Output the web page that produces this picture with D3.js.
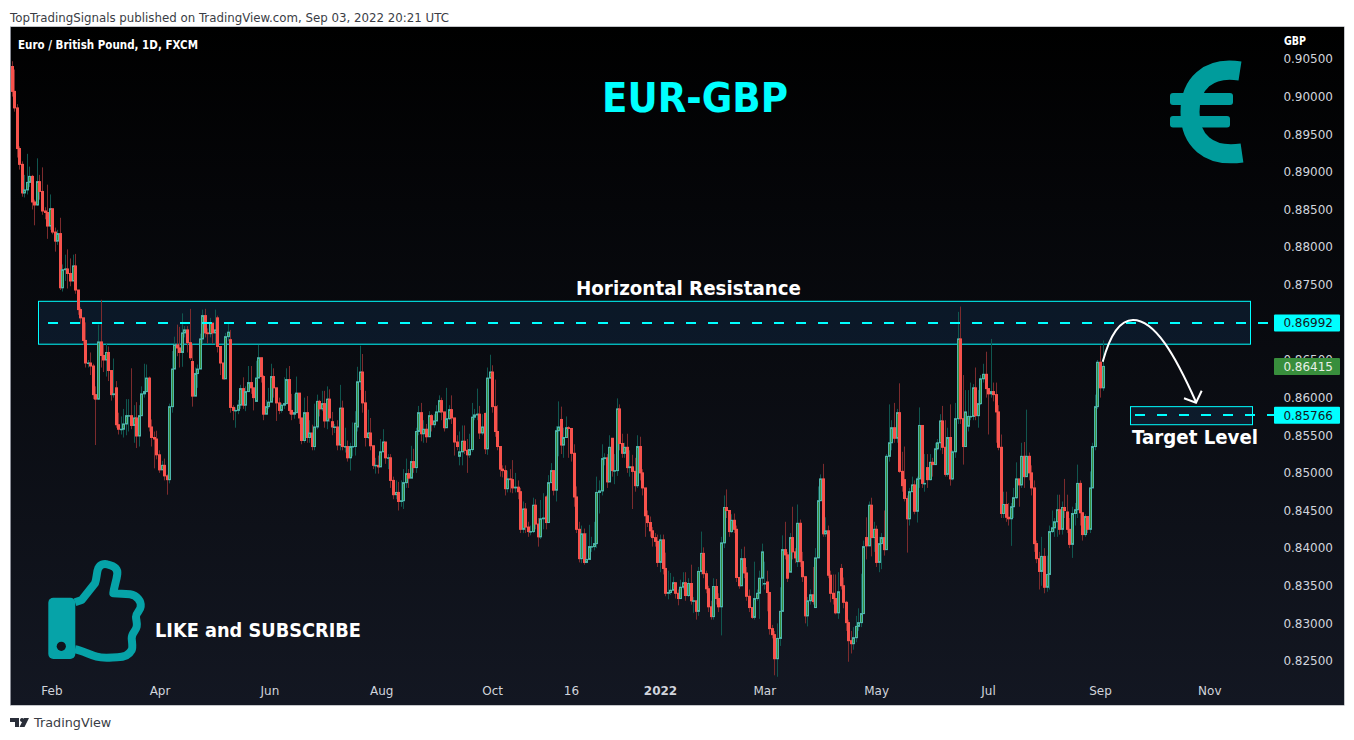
<!DOCTYPE html>
<html><head><meta charset="utf-8">
<script src="https://cdn.jsdelivr.net/npm/d3@7/dist/d3.min.js"></script>
<style>html,body{margin:0;padding:0;background:#fff;overflow:hidden}svg{display:block}text{font-family:"DejaVu Sans",sans-serif}</style>
</head><body><svg id="c" width="1354" height="740"></svg>
<script>
// prices in units of 0.0001 GBP
const opens=[
9040,9007,8985,8931,8910,8872,8876,8886,8894,8860,
8856,8887,8874,8848,8846,8828,8851,8820,8808,8818,
8746,8770,8771,8765,8755,8775,8743,8717,8706,8676,
8646,8646,8642,8604,8598,8674,8656,8650,8660,8636,
8604,8613,8564,8558,8558,8565,8576,8576,8563,8573,
8549,8576,8605,8608,8626,8561,8547,8545,8524,8504,
8510,8496,8491,8588,8638,8670,8666,8660,8686,8690,
8673,8648,8602,8632,8638,8678,8709,8686,8685,8699,
8686,8706,8668,8646,8625,8681,8677,8587,8583,8583,
8590,8612,8590,8608,8620,8613,8595,8626,8653,8628,
8578,8588,8594,8628,8613,8593,8583,8590,8592,8624,
8583,8578,8580,8606,8573,8543,8580,8547,8553,8535,
8561,8595,8585,8592,8569,8598,8568,8561,8561,8537,
8586,8535,8535,8520,8535,8535,8561,8621,8634,8593,
8547,8553,8536,8510,8510,8508,8528,8541,8520,8520,
8490,8471,8474,8462,8463,8487,8499,8493,8515,8507,
8555,8580,8552,8558,8548,8576,8564,8569,8581,8596,
8581,8560,8572,8584,8573,8541,8522,8528,8542,8530,
8524,8531,8574,8577,8578,8553,8579,8532,8626,8634,
8588,8555,8535,8505,8503,8479,8492,8491,8480,8481,
8475,8425,8452,8428,8422,8422,8457,8432,8415,8439,
8468,8434,8487,8503,8477,8556,8571,8537,8547,8560,
8559,8526,8468,8425,8386,8419,8381,8385,8402,8402,
8406,8474,8476,8519,8520,8488,8546,8503,8503,8585,
8539,8526,8534,8507,8508,8502,8483,8535,8500,8480,
8443,8434,8423,8414,8409,8381,8411,8373,8340,8341,
8344,8354,8340,8333,8348,8354,8337,8353,8330,8330,
8316,8369,8393,8366,8346,8322,8309,8349,8333,8322,
8407,8454,8450,8422,8437,8425,8361,8350,8386,8367,
8336,8321,8308,8333,8340,8360,8353,8355,8341,8293,
8285,8253,8280,8316,8398,8391,8368,8414,8395,8382,
8433,8382,8362,8310,8330,8338,8321,8387,8463,8492,
8419,8423,8364,8340,8333,8314,8373,8350,8328,8301,
8277,8273,8281,8296,8301,8313,8414,8403,8457,8414,
8425,8381,8406,8414,8398,8522,8540,8560,8546,8580,
8502,8491,8466,8439,8475,8484,8449,8492,8563,8486,
8507,8491,8514,8511,8532,8540,8569,8534,8498,8547,
8492,8528,8572,8678,8572,8535,8562,8575,8575,8613,
8576,8592,8625,8631,8612,8605,8608,8604,8581,8534,
8446,8458,8441,8439,8455,8467,8492,8484,8522,8495,
8522,8500,8480,8406,8386,8369,8389,8348,8365,8422,
8427,8435,8451,8425,8454,8448,8425,8405,8446,8451,
8486,8447,8418,8442,8425,8480,8535,8588,8647,8613];
const closes=[
9007,8985,8931,8910,8872,8876,8886,8894,8860,8856,
8887,8874,8848,8846,8828,8851,8820,8808,8818,8746,
8770,8771,8765,8755,8775,8743,8717,8706,8676,8646,
8646,8642,8604,8598,8674,8656,8650,8660,8636,8604,
8605,8564,8558,8558,8565,8576,8576,8563,8573,8549,
8576,8605,8608,8626,8561,8547,8545,8524,8504,8510,
8496,8491,8588,8638,8670,8666,8660,8686,8690,8673,
8653,8602,8632,8638,8678,8709,8686,8685,8699,8686,
8690,8668,8646,8625,8681,8687,8587,8583,8583,8590,
8612,8590,8608,8620,8613,8600,8626,8653,8628,8578,
8588,8594,8628,8613,8593,8583,8590,8592,8624,8583,
8578,8580,8606,8573,8543,8580,8547,8553,8535,8561,
8595,8585,8592,8569,8598,8573,8561,8561,8537,8586,
8535,8535,8520,8535,8535,8566,8621,8634,8593,8547,
8553,8536,8510,8510,8508,8528,8541,8520,8520,8490,
8471,8474,8462,8463,8487,8499,8493,8515,8507,8555,
8580,8552,8558,8548,8576,8564,8569,8581,8596,8581,
8560,8572,8584,8573,8541,8535,8528,8542,8530,8524,
8531,8574,8577,8578,8553,8561,8532,8626,8634,8588,
8555,8535,8505,8503,8479,8492,8491,8480,8481,8475,
8425,8452,8428,8422,8422,8457,8432,8415,8439,8440,
8434,8487,8503,8477,8556,8561,8537,8547,8560,8559,
8526,8468,8425,8386,8419,8381,8385,8402,8402,8406,
8474,8476,8519,8520,8488,8534,8503,8503,8585,8539,
8526,8534,8507,8508,8502,8483,8535,8500,8480,8443,
8434,8423,8414,8409,8381,8411,8373,8340,8341,8344,
8354,8340,8333,8348,8354,8337,8353,8330,8330,8316,
8369,8393,8366,8346,8322,8309,8349,8333,8322,8407,
8454,8450,8422,8437,8425,8361,8350,8386,8367,8336,
8321,8308,8333,8340,8360,8395,8353,8341,8293,8285,
8253,8280,8316,8398,8391,8360,8414,8395,8387,8433,
8382,8362,8310,8330,8338,8329,8387,8463,8492,8419,
8423,8364,8340,8333,8314,8342,8350,8328,8301,8277,
8273,8281,8296,8301,8313,8402,8403,8457,8414,8425,
8381,8406,8414,8398,8522,8540,8560,8546,8580,8502,
8483,8466,8439,8475,8484,8449,8492,8563,8486,8486,
8491,8514,8511,8532,8540,8569,8534,8498,8547,8492,
8528,8572,8678,8572,8535,8581,8575,8575,8613,8576,
8592,8625,8631,8612,8605,8608,8604,8581,8534,8446,
8458,8441,8439,8455,8467,8492,8484,8522,8495,8522,
8500,8480,8406,8386,8369,8389,8348,8365,8422,8427,
8435,8451,8425,8454,8450,8425,8405,8446,8451,8486,
8447,8418,8442,8425,8480,8535,8588,8647,8613,8641.5];
const highs=[
9047,9036,8990,8934,8914,8896,8924,8907,8896,8863,
8918,8896,8906,8853,8883,8870,8847,8826,8823,8839,
8777,8790,8797,8785,8790,8791,8740,8720,8700,8700,
8650,8660,8645,8615,8697,8730,8670,8672,8668,8620,
8652,8622,8580,8575,8585,8598,8598,8639,8590,8594,
8590,8615,8645,8644,8628,8571,8555,8556,8530,8516,
8519,8498,8592,8662,8681,8697,8694,8712,8695,8695,
8718,8670,8640,8644,8685,8717,8718,8692,8706,8690,
8717,8709,8665,8635,8686,8700,8690,8590,8587,8597,
8617,8627,8615,8642,8642,8608,8649,8670,8642,8630,
8597,8613,8645,8639,8605,8600,8593,8627,8639,8642,
8605,8605,8628,8600,8560,8600,8602,8570,8564,8592,
8604,8597,8609,8609,8615,8611,8581,8565,8570,8617,
8596,8560,8543,8540,8567,8582,8641,8669,8658,8609,
8584,8573,8530,8520,8523,8545,8558,8536,8525,8525,
8495,8490,8488,8490,8505,8519,8505,8536,8532,8560,
8589,8593,8570,8565,8582,8578,8578,8590,8603,8600,
8580,8613,8590,8603,8570,8550,8555,8563,8563,8545,
8552,8593,8585,8612,8589,8578,8580,8640,8657,8643,
8624,8590,8525,8510,8510,8503,8505,8517,8500,8490,
8480,8462,8460,8435,8430,8467,8465,8440,8464,8473,
8470,8497,8513,8500,8562,8595,8588,8560,8575,8562,
8540,8538,8482,8435,8430,8426,8420,8431,8415,8435,
8495,8490,8538,8526,8525,8550,8525,8525,8599,8591,
8552,8540,8552,8530,8524,8520,8550,8548,8505,8480,
8450,8442,8428,8420,8418,8418,8418,8394,8370,8367,
8362,8354,8345,8358,8368,8368,8360,8378,8335,8330,
8375,8422,8401,8370,8350,8330,8360,8359,8340,8415,
8470,8478,8450,8445,8446,8430,8355,8399,8402,8375,
8345,8320,8382,8345,8370,8406,8382,8370,8342,8298,
8290,8300,8348,8417,8435,8395,8420,8455,8400,8458,
8438,8395,8363,8335,8345,8375,8400,8482,8498,8512,
8441,8430,8370,8365,8365,8368,8379,8361,8330,8305,
8290,8295,8310,8320,8366,8410,8441,8462,8467,8435,
8430,8415,8420,8450,8525,8591,8570,8593,8585,8619,
8528,8535,8470,8480,8495,8490,8495,8587,8530,8525,
8525,8525,8520,8540,8545,8578,8589,8570,8560,8591,
8530,8593,8714,8721,8630,8610,8610,8620,8618,8640,
8610,8630,8645,8661,8610,8678,8620,8620,8590,8551,
8475,8475,8460,8460,8480,8514,8490,8540,8541,8584,
8527,8510,8490,8410,8395,8415,8400,8390,8430,8450,
8440,8471,8471,8462,8492,8471,8440,8455,8460,8511,
8490,8440,8445,8435,8502,8540,8604,8650,8669,8676];
const lows=[
9000,8980,8919,8903,8867,8866,8870,8880,8850,8829,
8855,8863,8843,8837,8811,8823,8817,8794,8803,8743,
8741,8755,8745,8748,8760,8738,8710,8698,8670,8640,
8640,8630,8598,8537,8597,8640,8634,8628,8622,8596,
8600,8560,8551,8551,8547,8550,8555,8558,8540,8533,
8535,8595,8600,8618,8555,8535,8506,8518,8500,8505,
8490,8471,8486,8580,8640,8655,8640,8641,8680,8660,
8650,8588,8625,8613,8670,8672,8680,8672,8680,8672,
8670,8660,8630,8624,8660,8675,8580,8570,8560,8578,
8585,8585,8582,8610,8605,8583,8620,8650,8620,8570,
8578,8585,8605,8600,8569,8578,8580,8585,8595,8578,
8570,8572,8600,8565,8538,8540,8540,8540,8530,8530,
8558,8575,8582,8560,8558,8568,8550,8553,8530,8530,
8530,8527,8515,8503,8522,8523,8555,8610,8580,8535,
8545,8530,8505,8499,8499,8515,8530,8512,8505,8480,
8465,8465,8450,8455,8452,8480,8480,8508,8500,8500,
8550,8542,8540,8540,8560,8555,8560,8570,8590,8570,
8555,8565,8570,8565,8523,8530,8510,8510,8525,8500,
8520,8528,8570,8570,8545,8550,8525,8524,8625,8580,
8548,8530,8495,8494,8470,8474,8474,8473,8474,8465,
8420,8420,8420,8415,8417,8420,8425,8402,8412,8425,
8425,8480,8490,8470,8462,8522,8525,8520,8550,8520,
8515,8455,8420,8381,8380,8378,8380,8385,8395,8397,
8400,8446,8470,8510,8480,8488,8495,8485,8496,8530,
8520,8520,8500,8495,8452,8475,8480,8490,8470,8415,
8428,8415,8402,8402,8375,8368,8365,8336,8332,8338,
8345,8333,8324,8335,8345,8330,8335,8325,8314,8305,
8310,8365,8360,8340,8315,8305,8305,8325,8315,8284,
8400,8440,8415,8420,8420,8355,8346,8350,8360,8330,
8315,8306,8305,8330,8306,8350,8345,8316,8285,8280,
8231,8229,8270,8316,8385,8355,8395,8385,8380,8375,
8375,8355,8300,8296,8325,8325,8325,8450,8485,8415,
8415,8360,8328,8325,8312,8306,8345,8320,8290,8249,
8260,8265,8275,8290,8295,8395,8385,8410,8389,8395,
8375,8368,8372,8390,8398,8515,8530,8540,8540,8500,
8475,8462,8394,8430,8475,8445,8434,8480,8480,8475,
8480,8490,8495,8525,8530,8530,8525,8495,8495,8483,
8490,8520,8565,8565,8511,8535,8555,8570,8570,8570,
8560,8590,8620,8600,8551,8600,8595,8540,8530,8440,
8440,8435,8430,8403,8440,8465,8455,8480,8480,8495,
8490,8470,8395,8380,8345,8350,8340,8342,8345,8420,
8415,8415,8418,8418,8440,8420,8400,8387,8430,8440,
8430,8410,8415,8420,8420,8480,8530,8585,8600,8609];
const priceTicks=[0.825,0.83,0.835,0.84,0.845,0.85,0.855,0.86,0.865,0.87,0.875,0.88,0.885,0.89,0.895,0.9,0.905];
const timeLabels=["Feb","Apr","Jun","Aug","Oct","16","2022","Mar","May","Jul","Sep","Nov"];
const timeLabelBars=[15.7,58.2,101.4,145.4,189,220,255,296,340,384,428,471];
const resistanceZone=[0.8671,0.8728], targetZone=[0.8564,0.8588];
const resistancePrice=0.86992, targetPrice=0.85766, lastPrice=0.86415;

const W=1354,H=740,pane={l:11,r:1344,t:27,b:705};
const svg=d3.select("#c");
const defs=svg.append("defs");
const g=defs.append("linearGradient").attr("id","bg").attr("x1",0).attr("y1",0).attr("x2",0).attr("y2",1);
g.append("stop").attr("offset","0%").attr("stop-color","#000000");
g.append("stop").attr("offset","100%").attr("stop-color","#131722");
defs.append("clipPath").attr("id","pc").append("rect").attr("x",pane.l).attr("y",pane.t).attr("width",pane.r-pane.l).attr("height",pane.b-pane.t);

const x=d3.scaleLinear().domain([0,closes.length-1]).range([11.5,1102.5]);
const y=d3.scaleLinear().domain([0.825,0.905]).range([661,59]);
const p=v=>y(v/10000);

// header and frame
svg.append("text").attr("x",10).attr("y",21.5).attr("font-size",11.8).attr("fill","#3a3d45").text("TopTradingSignals published on TradingView.com, Sep 03, 2022 20:21 UTC");
svg.append("rect").attr("x",pane.l-1).attr("y",pane.t-0.5).attr("width",pane.r-pane.l+1.5).attr("height",pane.b-pane.t+1).attr("fill","#8a8d96");
svg.append("rect").attr("x",pane.l).attr("y",pane.t).attr("width",pane.r-pane.l).attr("height",pane.b-pane.t).attr("fill","url(#bg)");

// zones (under the candles)
const zone=(d,x0,x1)=>svg.append("rect").attr("x",x0).attr("width",x1-x0)
  .attr("y",y(d[1])).attr("height",y(d[0])-y(d[1]))
  .attr("fill","rgba(33,150,243,0.11)").attr("stroke","#00ffff").attr("stroke-width",1);
zone(resistanceZone,38.5,1250.5);
zone(targetZone,1130.5,1252.5);

// candles
const bars=d3.range(closes.length);
const plot=svg.append("g").attr("clip-path","url(#pc)");
plot.append("g").selectAll("line").data(bars).join("line")
  .attr("x1",i=>Math.round(x(i))+0.5).attr("x2",i=>Math.round(x(i))+0.5)
  .attr("y1",i=>p(highs[i])).attr("y2",i=>p(lows[i]))
  .attr("stroke",i=>closes[i]>=opens[i]?"#10564f":"#7c2b2d").attr("stroke-width",1);
plot.append("g").selectAll("rect").data(bars).join("rect")
  .attr("x",i=>Math.round(x(i))-0.5).attr("width",2)
  .attr("y",i=>Math.min(p(opens[i]),p(closes[i])))
  .attr("height",i=>Math.max(0.5,Math.abs(p(opens[i])-p(closes[i]))))
  .attr("fill",i=>closes[i]>=opens[i]?"#388e3c":"#f7524c")
  .attr("stroke",i=>closes[i]>=opens[i]?"#4db6ac":"#f7524c").attr("stroke-width",1);

// dashed levels
const level=(v,x0,x1)=>{const ly=Math.round(y(v));svg.append("line").attr("x1",x0).attr("x2",x1).attr("y1",ly).attr("y2",ly)
  .attr("stroke","#00ffff").attr("stroke-width",2).attr("stroke-dasharray","10 12");};
level(resistancePrice,48,1268);
level(targetPrice,1135,1274);

// axes
const axY=svg.append("g").attr("transform","translate(1333,0)")
  .call(d3.axisLeft(y).tickValues(priceTicks).tickFormat(d3.format(".5f")).tickSize(0).tickPadding(0));
axY.select(".domain").remove();
axY.selectAll("text").attr("font-size",12).attr("fill","#d1d4dc").attr("font-family","DejaVu Sans");
const axX=svg.append("g").attr("transform","translate(0,686)")
  .call(d3.axisBottom(x).tickValues(timeLabelBars).tickFormat((d,i)=>timeLabels[i]).tickSize(0).tickPadding(0));
axX.select(".domain").remove();
axX.selectAll("text").attr("font-size",12).attr("fill","#d1d4dc").attr("font-family","DejaVu Sans")
  .attr("font-weight",(d,i)=>timeLabels[i]==="2022"?"bold":"normal");

// price labels
const tag=(v,bg,fg)=>{
  svg.append("rect").attr("x",1274).attr("width",66).attr("y",y(v)-8.5).attr("height",17).attr("fill",bg).attr("rx",1);
  svg.append("text").attr("x",1333).attr("y",y(v)+4.4).attr("text-anchor","end").attr("font-size",12).attr("fill",fg).text(d3.format(".5f")(v));
};
tag(resistancePrice,"#00ffff","#131722");
tag(lastPrice,"#388e3c","#e8f0e8");
tag(targetPrice,"#00ffff","#131722");

// texts
const T=(s,tx,ty,fs,fill,len)=>svg.append("text").attr("x",tx).attr("y",ty).attr("font-size",fs).attr("fill",fill).attr("font-weight","bold").attr("textLength",len).attr("lengthAdjust","spacingAndGlyphs").text(s);
T("Euro / British Pound, 1D, FXCM",18,49,11.4,"#ffffff",180);
T("GBP",1284,45,11.4,"#ffffff",22);
T("EUR-GBP",602,112,40,"#00ffff",186);
T("Horizontal Resistance",576,295,20,"#ffffff",225);
T("Target Level",1132,444,20,"#ffffff",126);
T("LIKE and SUBSCRIBE",155,637,19,"#ffffff",206);

// arrow
svg.append("path").attr("d","M1102.7 361.7C1110 335 1120 320 1133 320C1155 320 1175 355 1196 402").attr("fill","none").attr("stroke","#fff").attr("stroke-width",2);
svg.append("path").attr("d","M1184 398.3L1196 402.7L1201.7 390.7").attr("fill","none").attr("stroke","#fff").attr("stroke-width",2);

// euro icon
const teal="#009c9c";
svg.append("path").attr("d","M1240 71C1208 66 1190 84 1190 112C1190 140 1208 158 1242 153").attr("fill","none").attr("stroke",teal).attr("stroke-width",19);
svg.append("rect").attr("x",1170).attr("y",93).attr("width",63).attr("height",12).attr("rx",3).attr("fill",teal);
svg.append("rect").attr("x",1170).attr("y",116).attr("width",60).attr("height",11.5).attr("rx",3).attr("fill",teal);

// thumb icon
const teal2="#06a3a8";
svg.append("rect").attr("x",48.3).attr("y",597.7).attr("width",27).attr("height",61.3).attr("rx",5).attr("fill",teal2);
svg.append("circle").attr("cx",61.3).attr("cy",646.3).attr("r",4.6).attr("fill","#10131c");
svg.append("path").attr("d","M75 602.3L81.7 600L95 583.3C97 578 96.5 572 98.3 568.3C100 564.5 104 563.5 107.3 564.3C113 565.5 118 568 117.3 574C116.5 581 114 587 113.3 593.3L130 594.3C137 595.5 141.5 601 140.7 606.7C140.3 611 136 613 136 616.7C136 620 137.5 623 136.7 626.7C136 631 131.5 633 131.7 638.3C132 643 133 647 131.7 650C129 655 123 657.3 117.3 657.3C110 657.5 103 658.5 96.7 656.7C89 654.5 82 650.5 75 649.3")
  .attr("fill","none").attr("stroke",teal2).attr("stroke-width",8).attr("stroke-linejoin","round");

// footer
svg.append("text").attr("x",34).attr("y",727).attr("font-size",12.8).attr("fill","#3a3d45").text("TradingView");
svg.append("path").attr("d","M10 718h9v9h-4v-5h-5zM24 718l-4.5 9h5l4.5-9zM22 718a2 2 0 1 0 .01 0").attr("fill","#2a2e39");
</script></body></html>
